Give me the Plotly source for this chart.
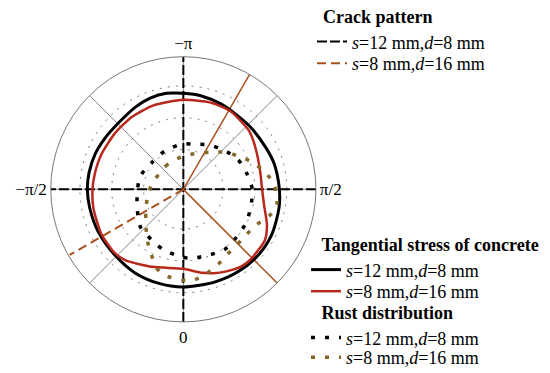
import plotly.graph_objects as go

# Polar angle in degrees: 0 at bottom, +90 (pi/2) at right, 180 (-pi) at top, -90 (-pi/2) at left.
# Radius as a fraction of the outer ring.

# Tangential stress of concrete
tan12_theta = [-180, -170, -160, -150, -136, -123, -112, -100, -90, -78.7, -63.8, -46.4, -30, -15,
               0, 19, 34, 49, 63, 79, 90, 105.4, 117, 134, 156, 169, 180]
tan12_r = [0.724, 0.735, 0.732, 0.718, 0.7, 0.706, 0.716, 0.722, 0.724, 0.72, 0.717, 0.716, 0.728,
           0.733, 0.737, 0.738, 0.746, 0.752, 0.749, 0.735, 0.724, 0.712, 0.697, 0.69, 0.703,
           0.717, 0.724]

tan8_theta = [-180, -160, -144, -129, -113, -100, -90, -78, -61, -47, -39, -22, 0, 12.6, 20, 27,
              37, 44, 58, 67, 79, 90, 101, 115.6, 124.6, 132, 149, 161.7, 180]
tan8_r = [0.675, 0.672, 0.67, 0.667, 0.672, 0.678, 0.685, 0.693, 0.705, 0.706, 0.69, 0.63, 0.6,
          0.645, 0.673, 0.697, 0.728, 0.733, 0.725, 0.685, 0.62, 0.594, 0.593, 0.616, 0.642,
          0.664, 0.688, 0.686, 0.675]

# Rust distribution
rust12_theta = [-179, -153.2, -129, -106.2, -84, -65, -49, -31, -18, -3, 5.5, 19.6, 34.5, 47.4,
                62, 75.5, 90, 104.2, 118, 130.9, 149.6, 168.8, 181]
rust12_r = [0.342, 0.32, 0.312, 0.34, 0.35, 0.382, 0.43, 0.452, 0.48, 0.506, 0.523, 0.53, 0.55,
            0.54, 0.536, 0.525, 0.52, 0.493, 0.47, 0.433, 0.387, 0.348, 0.342]

rust8_theta = [-177, -148, -109.5, -84.5, -62, -48, -35, -26, -19, -10.4, 5, 15, 25, 37, 49, 63,
               73, 81.7, 93.4, 103, 112.7, 122, 131.8, 145, 167.6, 183]
rust8_r = [0.246, 0.222, 0.226, 0.265, 0.319, 0.381, 0.473, 0.549, 0.627, 0.667, 0.692, 0.66,
           0.623, 0.587, 0.583, 0.606, 0.68, 0.714, 0.683, 0.622, 0.548, 0.478, 0.419, 0.341,
           0.27, 0.246]

# Crack pattern rays (from the centre out to the ring)
crack12_theta = [0, 0, 180, None, 90, 90, 270]
crack12_r = [1, 0, 1, None, 1, 0, 1]
crack8_solid_theta = [150, 150, 45]
crack8_solid_r = [1, 0, 1]
crack8_dash_theta = [300, 300]
crack8_dash_r = [0, 0.99]

ring_vals = [0.30, 0.54, 0.78]
ang_vals = [0, 45, 90, 135, 180, 225, 270, 315]
ang_text = ["0", "", "π/2", "", "−π", "", "−π/2", ""]

LBL12 = "<i>s</i>=12 mm,<i>d</i>=8 mm"
LBL8 = "<i>s</i>=8 mm,<i>d</i>=16 mm"

RED = "#b8281c"
BROWN = "#a8501e"
OLIVE = "#86682a"
SERIF = "Liberation Serif, Times New Roman, serif"
NB = "\u00a0"

W, H = 542, 365  # page body adds an 8px offset inside the 550x373 window

fig = go.Figure()

fig.add_trace(go.Scatterpolar(
    r=crack12_r, theta=crack12_theta, mode="lines", connectgaps=False,
    line=dict(color="black", width=2, dash="10px,3px"),
    name=LBL12, legend="legend",
))
fig.add_trace(go.Scatterpolar(
    r=crack8_solid_r, theta=crack8_solid_theta, mode="lines",
    line=dict(color=BROWN, width=1.5), showlegend=False,
))
fig.add_trace(go.Scatterpolar(
    r=crack8_dash_r, theta=crack8_dash_theta, mode="lines",
    line=dict(color=BROWN, width=2, dash="9px,5px"),
    name=LBL8, legend="legend2",
))

fig.add_trace(go.Scatterpolar(
    r=tan12_r, theta=tan12_theta, mode="lines",
    line=dict(color="black", width=3, shape="spline", smoothing=0.8),
    name=LBL12, legend="legend3",
))
fig.add_trace(go.Scatterpolar(
    r=tan8_r, theta=tan8_theta, mode="lines",
    line=dict(color=RED, width=2.5, shape="spline", smoothing=0.6),
    name=LBL8, legend="legend4",
))

fig.add_trace(go.Scatterpolar(
    r=rust12_r, theta=rust12_theta, mode="lines",
    line=dict(color="black", width=3.5, dash="4px,10px", shape="spline", smoothing=0.8),
    name=LBL12, legend="legend5",
))
fig.add_trace(go.Scatterpolar(
    r=rust8_r, theta=rust8_theta, mode="lines",
    line=dict(color=OLIVE, width=3.5, dash="4px,10px", shape="spline", smoothing=0.8),
    name=LBL8, legend="legend6",
))

title_font = dict(family=SERIF, size=18, color="black")


def leg(px_x, px_top, title=None):
    d = dict(
        x=(px_x - 8) / W, y=(H - (px_top - 8)) / H,
        font=dict(family=SERIF, size=18, color="black"),
        bgcolor="rgba(0,0,0,0)", xanchor="left", yanchor="top",
        itemwidth=30,
    )
    if title:
        d["title"] = dict(text=title, font=title_font)
    return d


fig.update_layout(
    width=W, height=H,
    margin=dict(l=0, r=0, t=0, b=0, autoexpand=False),
    paper_bgcolor="white",
    font=dict(family=SERIF, size=17, color="black"),
    polar=dict(
        domain=dict(x=[(50.7 - 8) / W, (316 - 8) / W],
                    y=[(H - (321.9 - 8)) / H, (H - (56.7 - 8)) / H]),
        bgcolor="white",
        radialaxis=dict(
            range=[0, 1], tickvals=ring_vals, showticklabels=False, ticks="",
            showline=False, gridcolor="#777", griddash="2px,6px", gridwidth=1.2,
        ),
        angularaxis=dict(
            rotation=270, direction="counterclockwise",
            tickvals=ang_vals, ticktext=ang_text, ticks="",
            showline=True, linecolor="#777", linewidth=1,
            gridcolor="#888", gridwidth=1,
            tickfont=dict(family=SERIF, size=17, color="black"),
        ),
    ),
    legend=leg(312, 0, NB * 2 + "<b>Crack pattern</b>"),
    legend2=leg(312, 45),
    legend3=leg(306, 228, NB * 3 + "<b>Tangential stress of concrete</b>"),
    legend4=leg(306, 273),
    legend5=leg(306, 296, NB * 3 + "<b>Rust distribution</b>"),
    legend6=leg(306, 339),
)

fig.write_html("out.html")
